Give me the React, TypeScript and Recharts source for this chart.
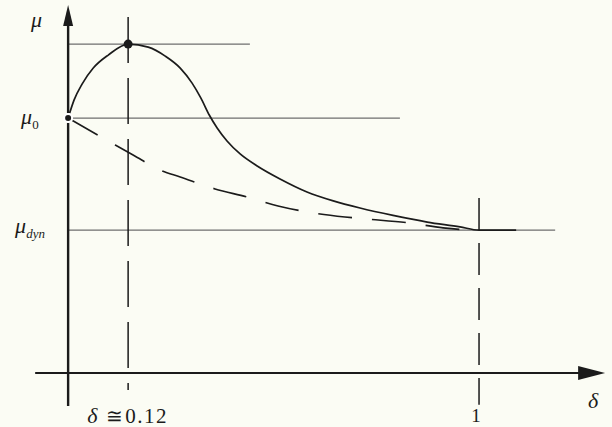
import { ComposedChart, Line, XAxis, YAxis, ReferenceLine, ReferenceDot } from 'recharts'

// friction coefficient vs. slip: peaked curve and the plain decaying one
const SLIP_PEAK = 0.12
const SLIP_FULL = 1
const MU_0 = 1.0
const MU_MAX = 1.29
const MU_DYN = 0.56

const peakSlip = [0, 0.0095, 0.024, 0.046, 0.077, 0.12, 0.165, 0.204, 0.239, 0.267, 0.288, 0.308, 0.327, 0.351, 0.383, 0.425, 0.482, 0.55, 0.617, 0.686, 0.772, 0.862, 0.949, 1.0, 1.1]
const peakMu = [1.0, 1.071, 1.133, 1.196, 1.247, 1.29, 1.278, 1.243, 1.196, 1.137, 1.078, 1.012, 0.961, 0.91, 0.859, 0.812, 0.761, 0.71, 0.675, 0.647, 0.618, 0.592, 0.573, 0.56, 0.56]

const decaySlip = [0, 0.092, 0.131, 0.192, 0.239, 0.322, 0.4, 0.477, 0.553, 0.647, 0.704, 0.817, 0.904, 0.976, 1.0]
const decayMu = [1.0, 0.894, 0.855, 0.796, 0.769, 0.722, 0.69, 0.655, 0.631, 0.612, 0.604, 0.588, 0.569, 0.561, 0.56]

const peakData = peakSlip.map((slip, i) => ({ slip, mu: peakMu[i] }))
const decayData = decaySlip.map((slip, i) => ({ slip, mu: decayMu[i] }))

// drawing extents in data units
const X_DOMAIN = [-0.138, 1.362]
const Y_DOMAIN = [-0.212, 1.463]
const X_AXIS_FROM = -0.062
const X_AXIS_TIP = 1.343
const Y_AXIS_FROM = -0.13
const Y_AXIS_TIP = 1.443

const INK = '#1b1b1b'
const THIN = '#6e6e6e'
const SERIF = '"Liberation Serif", "DejaVu Serif", serif'
const BG = '#fbfcf4'

// slip axis is slightly stretched near zero (power scale)
function slipScale(k = 0.9074) {
  let dom = [0, 1]
  let rng = [0, 1]
  const warp = (v: number) => Math.sign(v) * Math.pow(Math.abs(v), k)
  const unwarp = (v: number) => Math.sign(v) * Math.pow(Math.abs(v), 1 / k)
  const scale: any = (v: number) => {
    const a = warp(dom[0])
    const b = warp(dom[1])
    return rng[0] + ((warp(v) - a) / (b - a)) * (rng[1] - rng[0])
  }
  scale.domain = (d?: number[]) => {
    if (d === undefined) return dom.slice()
    dom = d.map(Number)
    return scale
  }
  scale.range = (r?: number[]) => {
    if (r === undefined) return rng.slice()
    rng = r.map(Number)
    return scale
  }
  scale.invert = (p: number) => {
    const a = warp(dom[0])
    const b = warp(dom[1])
    return unwarp(a + ((p - rng[0]) / (rng[1] - rng[0])) * (b - a))
  }
  scale.ticks = (n = 5) => {
    const step = (dom[1] - dom[0]) / n
    return Array.from({ length: n + 1 }, (_, i) => dom[0] + i * step)
  }
  scale.tickFormat = () => (v: number) => String(v)
  scale.copy = () => slipScale(k).domain(dom).range(rng)
  return scale
}

const textAt = (dx: number, dy: number, content: any, size = 22, anchor = 'start') =>
  (props: any) => (
    <text x={props.cx + dx} y={props.cy + dy} fontFamily={SERIF} fontSize={size} fill={INK} textAnchor={anchor}>
      {content}
    </text>
  )

// "δ ≅ 0.12" under the peak marker
const peakSlipLabel = (props: any) => {
  const y = props.cy + 50
  return (
    <g fontFamily={SERIF} fill={INK}>
      <text x={props.cx - 41} y={y} fontSize={22} fontStyle="italic">δ</text>
      <text x={props.cx - 22} y={y} fontSize={20}>≅</text>
      <text x={props.cx - 3} y={y} fontSize={21} letterSpacing={1.5}>0.12</text>
    </g>
  )
}

const upArrow = (props: any) => (
  <polygon
    points={`${props.cx},${props.cy} ${props.cx - 5},${props.cy + 21} ${props.cx + 5},${props.cy + 21}`}
    fill={INK}
  />
)

const rightArrow = (props: any) => (
  <polygon
    points={`${props.cx},${props.cy} ${props.cx - 27},${props.cy - 7} ${props.cx - 27},${props.cy + 7}`}
    fill={INK}
  />
)

export default function App() {
  return (
    <div style={{ position: 'absolute', left: 0, top: 0, width: 612, height: 427, background: BG }}>
      <ComposedChart width={612} height={427} margin={{ top: 0, right: 0, bottom: 0, left: 0 }}>
        <XAxis dataKey="slip" type="number" domain={X_DOMAIN} scale={slipScale()} hide allowDataOverflow />
        <YAxis dataKey="mu" type="number" domain={Y_DOMAIN} hide allowDataOverflow />

        {/* guide lines at the three friction levels */}
        <ReferenceLine segment={[{ x: 0, y: MU_MAX }, { x: 0.407, y: MU_MAX }]} stroke={THIN} strokeWidth={1.2} />
        <ReferenceLine segment={[{ x: 0, y: MU_0 }, { x: 0.79, y: MU_0 }]} stroke={THIN} strokeWidth={1.2} />
        <ReferenceLine segment={[{ x: 0, y: MU_DYN }, { x: 1.206, y: MU_DYN }]} stroke={THIN} strokeWidth={1.2} />

        {/* dashed markers at the peak slip and at full slip */}
        <ReferenceLine segment={[{ x: SLIP_PEAK, y: 1.396 }, { x: SLIP_PEAK, y: -0.067 }]} stroke={INK} strokeWidth={1.5} strokeDasharray="46 15" />
        <ReferenceLine segment={[{ x: SLIP_FULL, y: 0.686 }, { x: SLIP_FULL, y: -0.125 }]} stroke={INK} strokeWidth={1.5} strokeDasharray="32 13" />

        {/* axes with arrowheads */}
        <ReferenceLine segment={[{ x: 0, y: Y_AXIS_FROM }, { x: 0, y: Y_AXIS_TIP - 0.05 }]} stroke={INK} strokeWidth={2.4} />
        <ReferenceLine segment={[{ x: X_AXIS_FROM, y: 0 }, { x: X_AXIS_TIP - 0.06, y: 0 }]} stroke={INK} strokeWidth={2} />
        <ReferenceDot x={0} y={Y_AXIS_TIP} shape={upArrow} />
        <ReferenceDot x={X_AXIS_TIP} y={0} shape={rightArrow} />

        <Line data={decayData} dataKey="mu" type="monotone" stroke={INK} strokeWidth={1.6} strokeDasharray="34 20" dot={false} isAnimationActive={false} />
        <Line data={peakData} dataKey="mu" type="monotone" stroke={INK} strokeWidth={1.7} dot={false} isAnimationActive={false} />
        <ReferenceDot x={SLIP_PEAK} y={MU_MAX} r={4.5} fill={INK} stroke="none" />

        {/* text labels */}
        <ReferenceDot x={0} y={Y_AXIS_TIP} shape={textAt(-37, 22, <tspan fontStyle="italic">μ</tspan>)} />
        <ReferenceDot x={0} y={MU_0} shape={textAt(-47, 6, <><tspan fontStyle="italic">μ</tspan><tspan fontSize={13} dy={5}>0</tspan></>)} />
        <ReferenceDot x={0} y={MU_DYN} shape={textAt(-53, 3, <><tspan fontStyle="italic">μ</tspan><tspan fontSize={13} fontStyle="italic" dy={5}>dyn</tspan></>)} />
        <ReferenceDot x={SLIP_PEAK} y={0} shape={peakSlipLabel} />
        <ReferenceDot x={SLIP_FULL} y={0} shape={textAt(-3, 49, '1', 19, 'middle')} />
        <ReferenceDot x={X_AXIS_TIP} y={0} shape={textAt(-17, 35, <tspan fontStyle="italic">δ</tspan>)} />
      </ComposedChart>
    </div>
  )
}
